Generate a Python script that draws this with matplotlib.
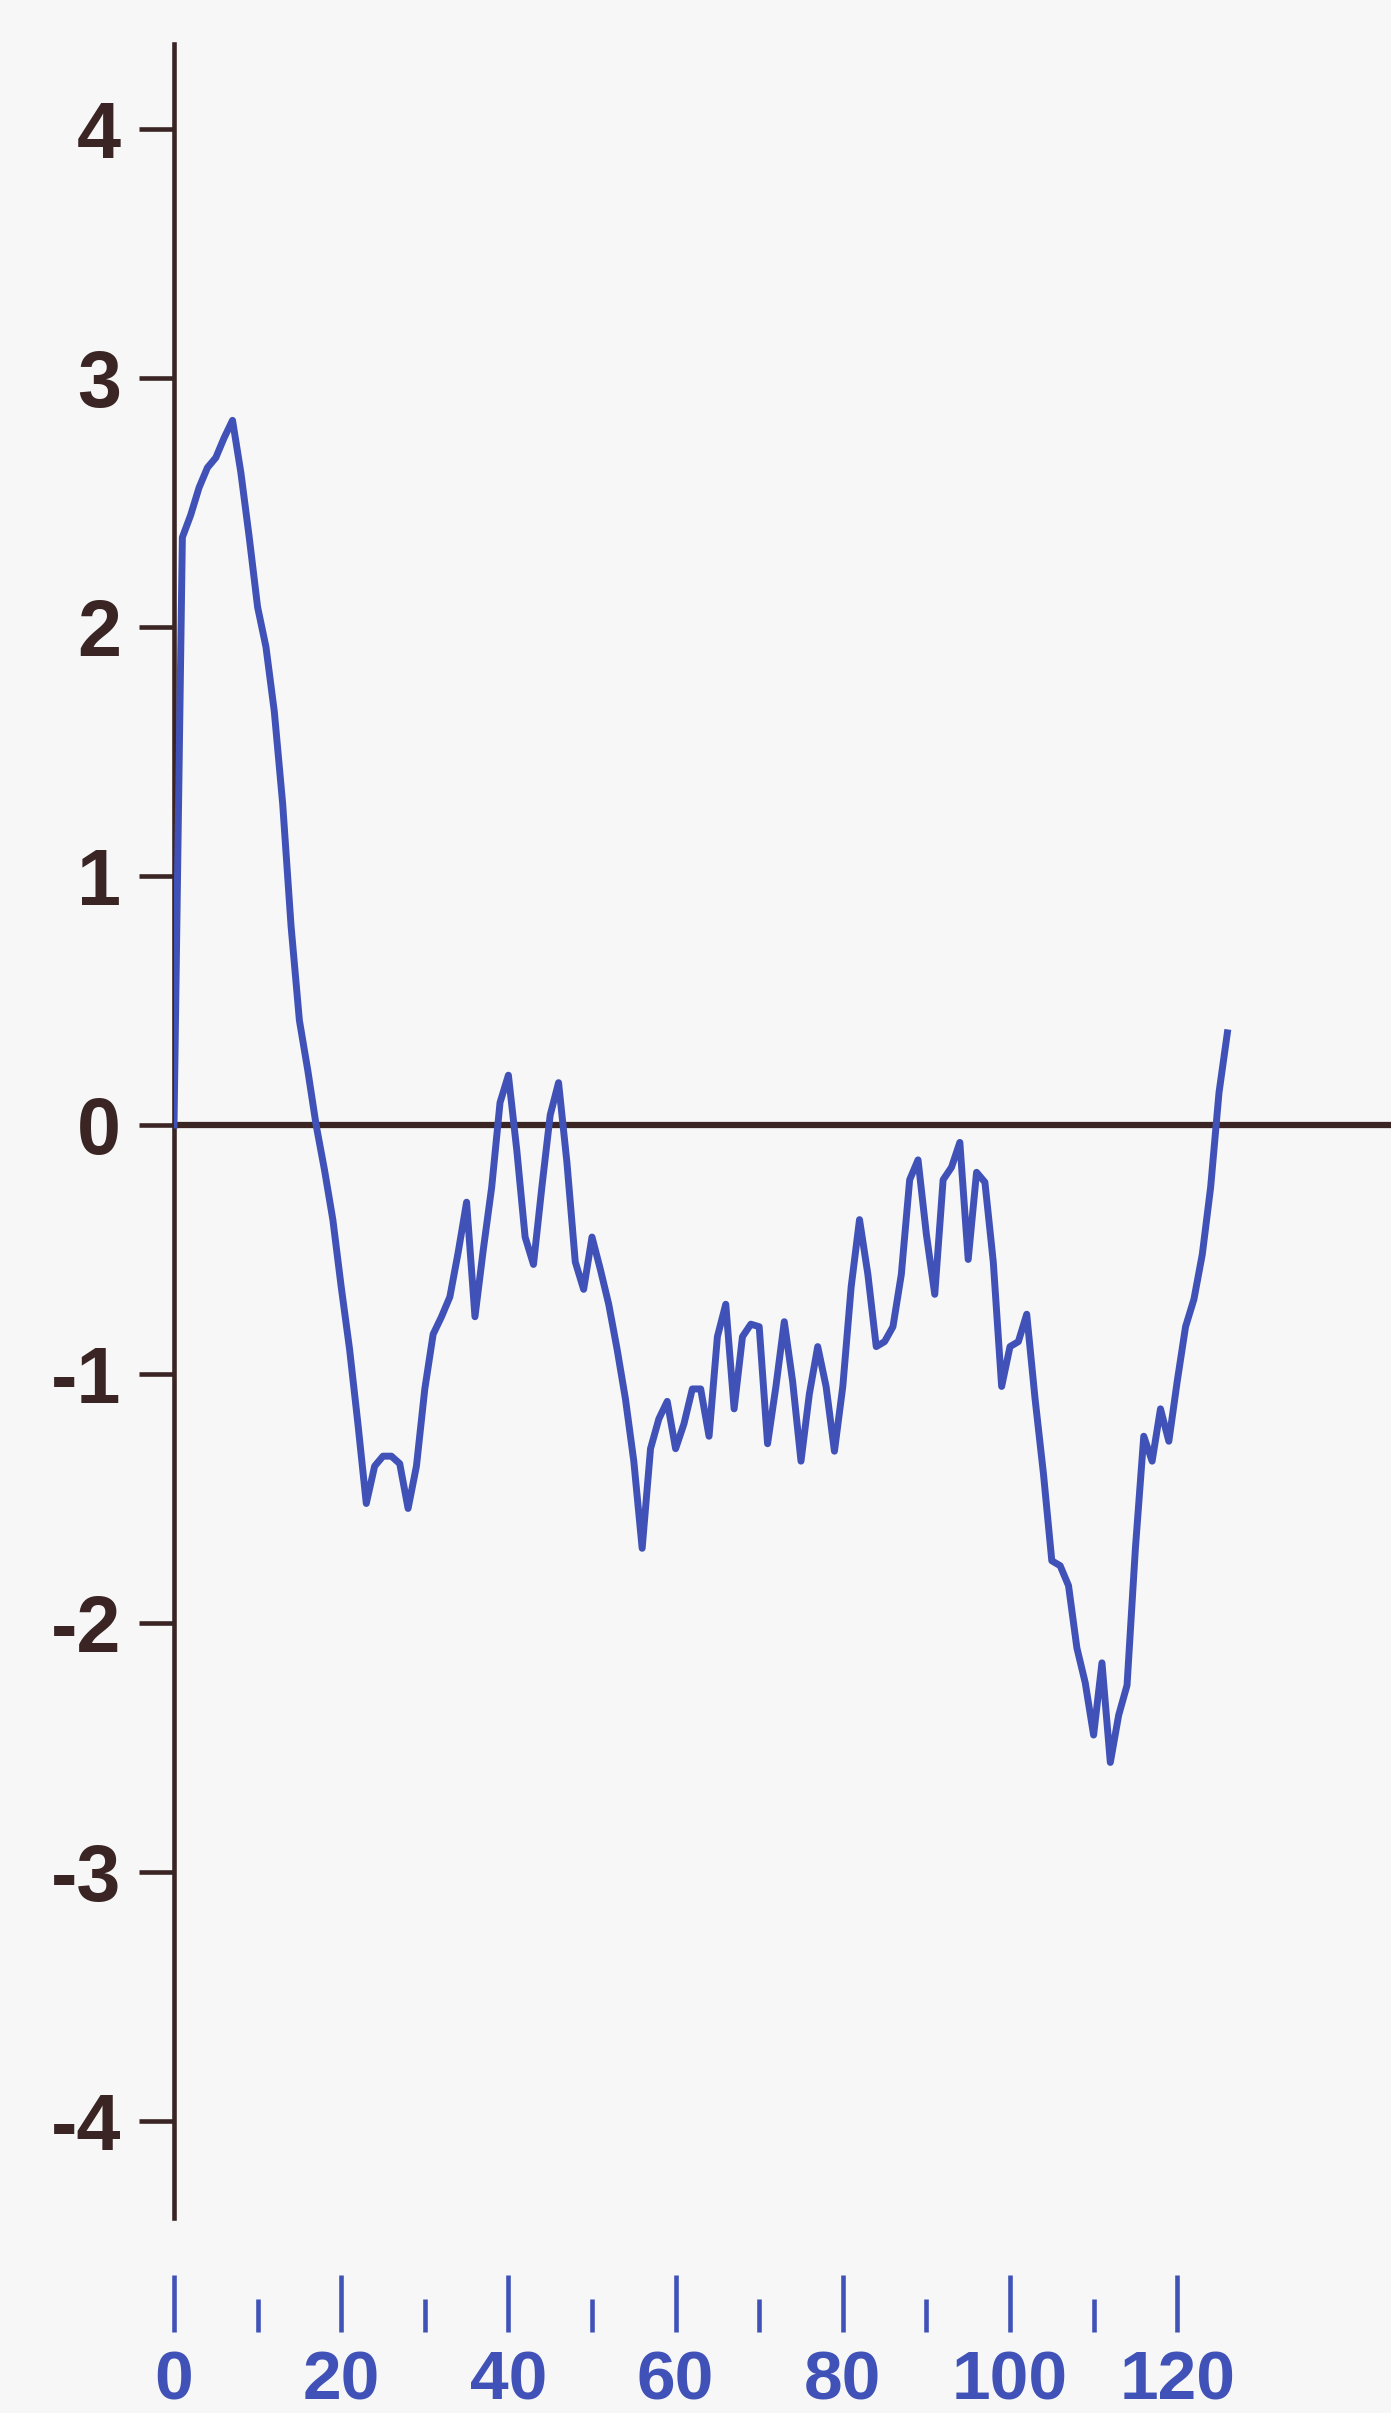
import matplotlib.pyplot as plt

# valores de hidrofobicidade, um por residuo
hidro = [0.00, 2.36, 2.45, 2.56, 2.64, 2.68, 2.76, 2.83, 2.62, 2.36,
         2.08, 1.92, 1.66, 1.29, 0.80, 0.42, 0.22, 0.00, -0.18, -0.38,
         -0.65, -0.90, -1.20, -1.52, -1.37, -1.33, -1.33, -1.36, -1.54, -1.37,
         -1.06, -0.84, -0.77, -0.69, -0.51, -0.31, -0.77, -0.50, -0.25, 0.09,
         0.20, -0.10, -0.45, -0.56, -0.25, 0.04, 0.17, -0.15, -0.55, -0.66,
         -0.45, -0.58, -0.72, -0.90, -1.10, -1.35, -1.70, -1.30, -1.18, -1.11,
         -1.30, -1.20, -1.06, -1.06, -1.25, -0.85, -0.72, -1.14, -0.85, -0.80,
         -0.81, -1.28, -1.05, -0.79, -1.03, -1.35, -1.08, -0.89, -1.05, -1.31,
         -1.05, -0.65, -0.38, -0.60, -0.89, -0.87, -0.81, -0.60, -0.22, -0.14,
         -0.44, -0.68, -0.22, -0.17, -0.07, -0.54, -0.19, -0.23, -0.55, -1.05,
         -0.89, -0.87, -0.76, -1.10, -1.40, -1.75, -1.77, -1.85, -2.10, -2.24,
         -2.45, -2.16, -2.56, -2.37, -2.25, -1.70, -1.25, -1.35, -1.14, -1.27,
         -1.03, -0.81, -0.70, -0.52, -0.25, 0.13, 0.37]
residuo = list(range(len(hidro)))

yticks = [4, 3, 2, 1, 0, -1, -2, -3, -4]
ytick_labels = ["4", "3", "2", "1", "0", "-1", "-2", "-3", "-4"]
xticks = [0, 20, 40, 60, 80, 100, 120]
xticks_menor = [10, 30, 50, 70, 90, 110]

azul = "#4052b8"
marrom = "#3a2424"
fundo = "#f6f7f6"

fig = plt.figure(figsize=(13.91, 24.13), dpi=100, facecolor=fundo)
W, H = 1391, 2413
x0, ytop, ybot = 174, 44, 2218
ax = fig.add_axes([x0 / W, 1 - ybot / H, 1 - x0 / W, (ybot - ytop) / H])
ax.set_facecolor(fundo)

ax.set_xlim(0, (W - x0) / 8.36)
ax.set_ylim((1125 - ybot) / 249, (1125 - ytop) / 249)

ax.axhline(0, color=marrom, lw=4.5, zorder=2)
ax.plot(residuo, hidro, color=azul, lw=5, zorder=3)

for lado in ["top", "right"]:
    ax.spines[lado].set_visible(False)
ax.spines["left"].set_color(marrom)
ax.spines["left"].set_linewidth(3.3)
ax.spines["bottom"].set_position(("outward", 82))
ax.spines["bottom"].set_visible(False)

ax.set_yticks(yticks)
ax.set_yticklabels(ytick_labels)
ax.tick_params(axis="y", direction="out", length=25, width=3.3, color=marrom,
               pad=13, labelsize=57, labelcolor=marrom)
for t in ax.get_yticklabels():
    t.set_fontfamily(["Liberation Sans", "DejaVu Sans"])
    t.set_fontweight("bold")

ax.set_xticks(xticks)
ax.set_xticks(xticks_menor, minor=True)
ax.set_xticklabels([str(v) for v in xticks])
ax.tick_params(axis="x", which="major", direction="in", length=41, width=3.3,
               color=azul, pad=13, labelsize=50, labelcolor=azul)
ax.tick_params(axis="x", which="minor", direction="in", length=24, width=3.3,
               color=azul)
for t in ax.get_xticklabels():
    t.set_fontfamily(["Liberation Sans Narrow", "Liberation Sans", "DejaVu Sans"])
    t.set_fontweight("bold")

fig.savefig("out.png", dpi=100, facecolor=fundo)
